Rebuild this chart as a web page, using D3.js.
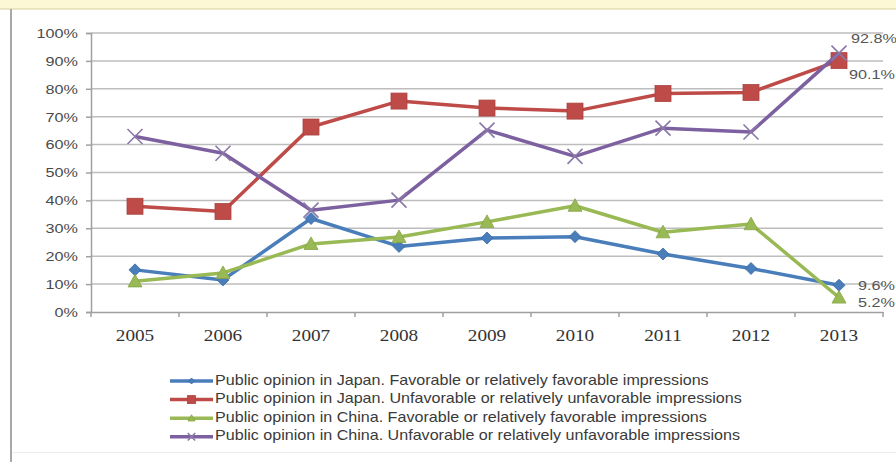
<!DOCTYPE html>
<html>
<head>
<meta charset="utf-8">
<script src="https://cdn.jsdelivr.net/npm/d3@7"></script>
<style>
  html, body { margin: 0; padding: 0; background: #ffffff; }
  svg { display: block; }
</style>
</head>
<body>
<svg id="chart" width="896" height="462"></svg>
<script>
// Survey years
const years = ["2005", "2006", "2007", "2008", "2009", "2010", "2011", "2012", "2013"];

// Percent of respondents per year
const japanFavorable   = [15.1, 11.5, 33.5, 23.5, 26.5, 27.0, 20.8, 15.6, 9.6];
const japanUnfavorable = [37.9, 36.0, 66.3, 75.6, 73.1, 72.0, 78.3, 78.7, 90.1];
const chinaFavorable   = [11.0, 14.0, 24.4, 26.9, 32.3, 38.1, 28.6, 31.5, 5.2];
const chinaUnfavorable = [62.9, 56.9, 36.5, 40.1, 65.2, 55.8, 65.9, 64.5, 92.8];

const seriesNames = [
  "Public opinion in Japan. Favorable or relatively favorable impressions",
  "Public opinion in Japan. Unfavorable or relatively unfavorable impressions",
  "Public opinion in China. Favorable or relatively favorable impressions",
  "Public opinion in China. Unfavorable or relatively unfavorable impressions"
];

const yTicks = [0, 10, 20, 30, 40, 50, 60, 70, 80, 90, 100];

const series = [
  { name: seriesNames[0], values: japanFavorable,   color: "#4a7ebb", marker: "diamond"  },
  { name: seriesNames[1], values: japanUnfavorable, color: "#be4b48", marker: "square"   },
  { name: seriesNames[2], values: chinaFavorable,   color: "#98b954", marker: "triangle" },
  { name: seriesNames[3], values: chinaUnfavorable, color: "#7d60a0", marker: "cross"    }
];

// Text in this figure is set slightly wide
const WIDE = 1.2;

const svg = d3.select("#chart");
const W = 896, H = 462;

// Page frame: pale yellow strip on top, grey edge on the left
svg.append("rect").attr("x", 0).attr("y", 0).attr("width", W).attr("height", H).attr("fill", "#ffffff");
svg.append("rect").attr("x", 0).attr("y", 0).attr("width", W).attr("height", 9).attr("fill", "#fcf8d6");
svg.append("line").attr("x1", 0).attr("x2", W).attr("y1", 9).attr("y2", 9)
  .attr("stroke", "#d6cf9e").attr("stroke-width", 1.2);
svg.append("line").attr("x1", 11).attr("x2", 11).attr("y1", 9).attr("y2", H)
  .attr("stroke", "#a8a8a8").attr("stroke-width", 2);
svg.append("line").attr("x1", 12).attr("x2", W).attr("y1", 452.5).attr("y2", 452.5)
  .attr("stroke", "#ececec").attr("stroke-width", 1);

const plot = { left: 91, right: 883, top: 33, bottom: 312 };

const x = d3.scaleBand().domain(years).range([plot.left, plot.right]);
const y = d3.scaleLinear().domain([0, 100]).range([plot.bottom, plot.top]);
const cx = d => x(d) + x.bandwidth() / 2;

// Horizontal gridlines
svg.append("g")
  .selectAll("line")
  .data(yTicks.filter(t => t > 0))
  .join("line")
  .attr("x1", plot.left).attr("x2", plot.right)
  .attr("y1", d => y(d)).attr("y2", d => y(d))
  .attr("stroke", "#bdbdbd").attr("stroke-width", 1.5);

// Y axis
const yAxis = svg.append("g")
  .attr("transform", `translate(${plot.left},0)`)
  .call(d3.axisLeft(y).tickValues(yTicks).tickFormat(d => d + "%").tickSize(5).tickPadding(8));
yAxis.select(".domain").attr("stroke", "#a0a0a0").attr("stroke-width", 1.5);
yAxis.selectAll(".tick line").attr("stroke", "#a0a0a0").attr("stroke-width", 1.5);
yAxis.selectAll(".tick text")
  .attr("font-family", "Liberation Sans, Arial, sans-serif")
  .attr("font-size", 13.5).attr("fill", "#4a4a4a")
  .attr("x", -13 / WIDE)
  .attr("transform", `scale(${WIDE},1)`);

// X axis with ticks between categories
const xAxis = svg.append("g")
  .attr("transform", `translate(0,${plot.bottom})`)
  .call(d3.axisBottom(x).tickSize(0).tickPadding(18));
xAxis.select(".domain").attr("stroke", "#a0a0a0").attr("stroke-width", 1.5);
xAxis.selectAll(".tick text")
  .attr("font-family", "Liberation Serif, Times New Roman, serif")
  .attr("font-size", 16).attr("fill", "#333333")
  .attr("transform", `scale(${WIDE},1)`);
xAxis.append("g")
  .selectAll("line")
  .data(d3.range(years.length + 1))
  .join("line")
  .attr("x1", i => plot.left + i * x.bandwidth())
  .attr("x2", i => plot.left + i * x.bandwidth())
  .attr("y1", 0).attr("y2", 5)
  .attr("stroke", "#a0a0a0").attr("stroke-width", 1.5);

// Marker shapes
function drawMarker(g, type, color, px, py, scale) {
  const s = scale || 1;
  if (type === "diamond") {
    const r = 6 * s;
    g.append("path")
      .attr("d", `M${px},${py - r}L${px + r},${py}L${px},${py + r}L${px - r},${py}Z`)
      .attr("fill", color).attr("stroke", "#3a6aa6").attr("stroke-width", 0.8);
  } else if (type === "square") {
    const r = 8 * s;
    g.append("rect")
      .attr("x", px - r).attr("y", py - r).attr("width", 2 * r).attr("height", 2 * r)
      .attr("fill", color).attr("stroke", "#a94441").attr("stroke-width", 0.8);
  } else if (type === "triangle") {
    const r = 7 * s;
    g.append("path")
      .attr("d", `M${px},${py - r}L${px + r},${py + r * 0.8}L${px - r},${py + r * 0.8}Z`)
      .attr("fill", color).attr("stroke", "#86a548").attr("stroke-width", 0.8);
  } else if (type === "cross") {
    const r = 7.5 * s;
    g.append("path")
      .attr("d", `M${px - r},${py - r}L${px + r},${py + r}M${px - r},${py + r}L${px + r},${py - r}`)
      .attr("stroke", "#8a78a8").attr("stroke-width", 1.6).attr("fill", "none");
  }
}

const line = d3.line().x(d => cx(d.year)).y(d => y(d.value));

// Lines, then markers (drawn in series order)
series.forEach(s => {
  const pts = years.map((yr, i) => ({ year: yr, value: s.values[i] }));
  const g = svg.append("g");
  g.append("path")
    .datum(pts)
    .attr("d", line)
    .attr("fill", "none")
    .attr("stroke", s.color)
    .attr("stroke-width", 3.5)
    .attr("stroke-linejoin", "round");
  pts.forEach(p => drawMarker(g, s.marker, s.color, cx(p.year), y(p.value)));
});

// Value labels for the last year
const last = years.length - 1;
const endLabels = [
  { value: chinaUnfavorable[last], dx: 12, dy: -14 },
  { value: japanUnfavorable[last], dx: 10, dy: 15 },
  { value: japanFavorable[last],   dx: 19, dy: 1 },
  { value: chinaFavorable[last],   dx: 19, dy: 6 }
];
svg.append("g")
  .selectAll("text")
  .data(endLabels)
  .join("text")
  .attr("transform", d => `translate(${cx(years[last]) + d.dx},${y(d.value) + d.dy}) scale(${WIDE},1)`)
  .attr("dominant-baseline", "middle")
  .attr("font-family", "Liberation Sans, Arial, sans-serif")
  .attr("font-size", 13.5)
  .attr("fill", "#555555")
  .text(d => d.value.toFixed(1) + "%");

// Legend
const legend = svg.append("g");
const legendX = 170, legendTextX = 215, legendY = 381, legendStep = 18.6;
const legendTexts = [];
series.forEach((s, i) => {
  const ly = legendY + i * legendStep;
  legend.append("line")
    .attr("x1", legendX).attr("x2", legendTextX - 2)
    .attr("y1", ly).attr("y2", ly)
    .attr("stroke", s.color).attr("stroke-width", 3.5);
  drawMarker(legend, s.marker, s.color, (legendX + legendTextX - 2) / 2, ly, 0.5);
  legendTexts.push(legend.append("text")
    .attr("transform", `translate(${legendTextX},${ly})`)
    .attr("dominant-baseline", "middle")
    .attr("font-family", "Liberation Sans, Arial, sans-serif")
    .attr("font-size", 14)
    .attr("fill", "#3a3a3a")
    .text(s.name));
});
// Widen legend text so the longest entry spans to x = 742
const longest = d3.max(legendTexts, t => t.node().getComputedTextLength());
const legendScale = (742 - legendTextX) / longest;
legendTexts.forEach((t, i) => {
  t.attr("transform", `translate(${legendTextX},${legendY + i * legendStep}) scale(${legendScale},1)`);
});
</script>
</body>
</html>
